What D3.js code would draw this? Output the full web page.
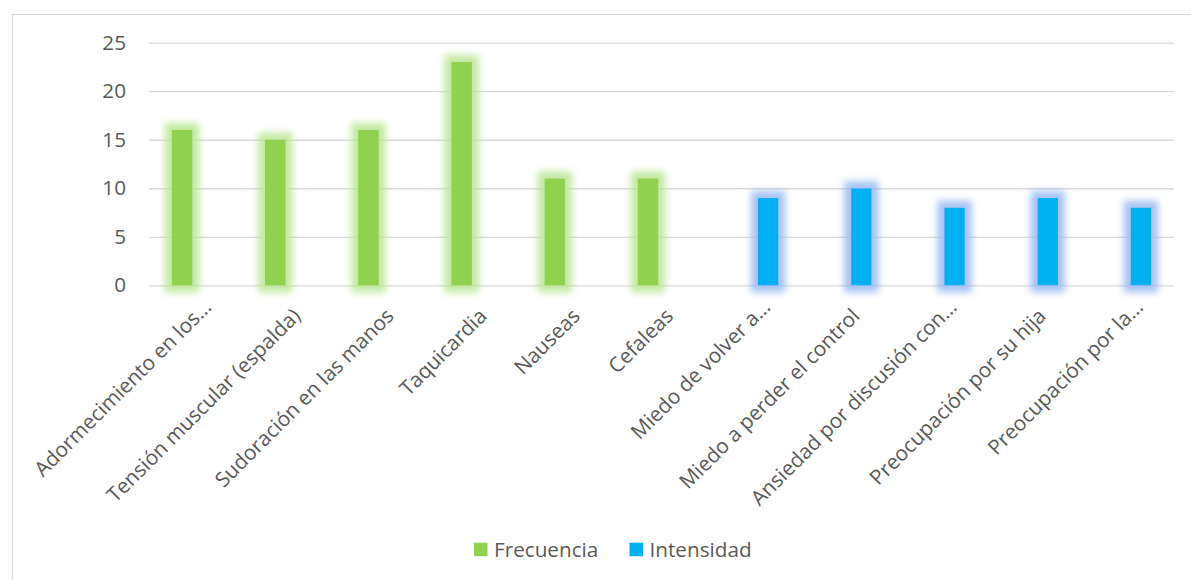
<!DOCTYPE html>
<html>
<head>
<meta charset="utf-8">
<script src="https://cdn.jsdelivr.net/npm/d3@7"></script>
<style>
  body { margin: 0; background: #fff; }
  svg text { font-family: "Open Sans", sans-serif; }
</style>
</head>
<body>
<svg id="chart" width="1191" height="580"></svg>
<script>
// Symptom categories (x axis)
const categories = [
  "Adormecimiento en los…",
  "Tensión muscular (espalda)",
  "Sudoración en las manos",
  "Taquicardia",
  "Nauseas",
  "Cefaleas",
  "Miedo de volver a…",
  "Miedo a perder el control",
  "Ansiedad por discusión con…",
  "Preocupación por su hija",
  "Preocupación por la…"
];

// Series values (null = no bar for that category)
const frecuencia = [16, 15, 16, 23, 11, 11, null, null, null, null, null];
const intensidad = [null, null, null, null, null, null, 9, 10, 8, 9, 8];

const seriesNames = ["Frecuencia", "Intensidad"];
const seriesColors = ["#92D050", "#00B0F0"];
const glowColors = ["#b9e692", "#98b9f2"];

const yTicks = [0, 5, 10, 15, 20, 25];

const svg = d3.select("#chart");
const fontSize = "20.7px";

// Chart frame
svg.append("path")
  .attr("d", "M12.5,600 V14.5 H1200")
  .attr("fill", "none")
  .attr("stroke", "#d9d9d9")
  .attr("stroke-width", 1);

const plot = { left: 149, right: 1174, top: 42.7, bottom: 285.3 };

const y = d3.scaleLinear().domain([0, 25]).range([plot.bottom, plot.top]);
const x = d3.scaleBand().domain(categories).range([plot.left, plot.right]).padding(0);
const bw = x.bandwidth();
const xs = d3.scaleBand().domain(seriesNames)
  .range([bw / 2 - 23.75, bw / 2 + 23.75])
  .paddingInner(0.24).paddingOuter(0);

// Soft glow around the bars
const defs = svg.append("defs");
seriesNames.forEach((s, i) => {
  const f = defs.append("filter")
    .attr("id", "glow" + i)
    .attr("x", "-100%").attr("y", "-50%")
    .attr("width", "300%").attr("height", "200%");
  f.append("feMorphology").attr("in", "SourceAlpha")
    .attr("operator", "dilate").attr("radius", 7).attr("result", "thick");
  f.append("feFlood").attr("flood-color", glowColors[i]).attr("flood-opacity", 0.85);
  f.append("feComposite").attr("in2", "thick").attr("operator", "in");
  f.append("feGaussianBlur").attr("stdDeviation", 3.6).attr("result", "glow");
  const m = f.append("feMerge");
  m.append("feMergeNode").attr("in", "glow");
  m.append("feMergeNode").attr("in", "SourceGraphic");
});

// Gridlines
svg.append("g")
  .attr("transform", `translate(${plot.left},0)`)
  .call(d3.axisLeft(y).tickValues(yTicks).tickSize(-(plot.right - plot.left)).tickFormat(""))
  .call(g => g.select(".domain").remove())
  .call(g => g.selectAll("line").attr("stroke", "#d9d9d9").attr("stroke-width", 1.3));

// Y tick labels
svg.append("g")
  .attr("transform", `translate(126,0)`)
  .call(d3.axisLeft(y).tickValues(yTicks).tickSize(0).tickPadding(0))
  .call(g => g.select(".domain").remove())
  .call(g => g.selectAll("text")
    .attr("fill", "#595959")
    .style("font-size", fontSize));

// Bars
const seriesData = [frecuencia, intensidad];
seriesData.forEach((vals, i) => {
  const data = categories.map((c, k) => ({ c, v: vals[k] })).filter(d => d.v != null);
  svg.append("g")
    .attr("filter", `url(#glow${i})`)
    .selectAll("rect")
    .data(data)
    .join("rect")
    .attr("x", d => x(d.c) + xs(seriesNames[i]))
    .attr("width", xs.bandwidth())
    .attr("y", d => y(d.v))
    .attr("height", d => y(0) - y(d.v))
    .attr("fill", seriesColors[i]);
});

// Category labels (rotated); truncated labels sit a little further out
svg.append("g")
  .selectAll("text")
  .data(categories)
  .join("text")
  .attr("transform", d => {
    const truncated = d.endsWith("…");
    const dx = truncated ? 17 : 13;
    const dy = truncated ? 23 : 32;
    return `translate(${x(d) + bw / 2 + dx},${plot.bottom + dy}) rotate(-45)`;
  })
  .attr("text-anchor", "end")
  .attr("fill", "#595959")
  .style("font-size", fontSize)
  .text(d => d);

// Legend
const legend = svg.append("g");
const legendItems = [
  { name: seriesNames[0], color: seriesColors[0], x: 474 },
  { name: seriesNames[1], color: seriesColors[1], x: 629.5 }
];
legendItems.forEach(it => {
  legend.append("rect")
    .attr("x", it.x).attr("y", 542.7)
    .attr("width", 13.5).attr("height", 13.5)
    .attr("fill", it.color);
  legend.append("text")
    .attr("x", it.x + 20).attr("y", 556.5)
    .attr("fill", "#595959")
    .style("font-size", fontSize)
    .text(it.name);
});
</script>
</body>
</html>
